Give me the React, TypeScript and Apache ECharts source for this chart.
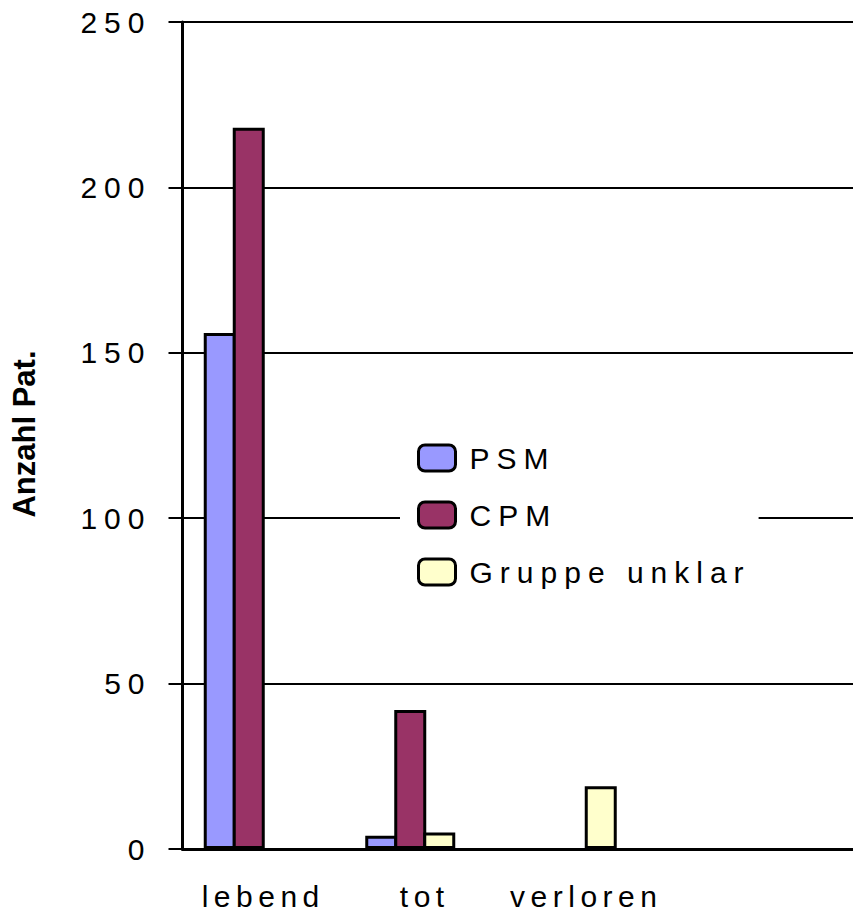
import React, { useEffect, useRef } from "react";
import * as echarts from "echarts";

const categories = ["lebend", "tot", "verloren", "", ""];
const seriesNames = ["PSM", "CPM", "Gruppe unklar"];
const psmValues = [156, 4, null, null, null];
const cpmValues = [218, 42, null, null, null];
const unklarValues = [null, 5, 19, null, null];
const emptyValues = [null, null, null, null, null];
const yMin = 0;
const yMax = 250;
const yInterval = 50;
const yAxisTitle = "Anzahl Pat.";
const colors = ["#9999FF", "#993366", "#FFFFCC"];

export default function App() {
  const ref = useRef<HTMLDivElement>(null);
  useEffect(() => {
    if (!ref.current) return;
    const chart = echarts.init(ref.current, null, { renderer: "svg" });
    const barStyle = (c: string) => ({ color: c, borderColor: "#000", borderWidth: 3, borderJoin: "miter" });
    const mk = (name: string, data: any[], color: string) => ({
      name,
      type: "bar",
      data,
      barWidth: 32,
      barGap: "-9.375%",
      itemStyle: barStyle(color),
    });
    chart.setOption({
      animation: false,
      backgroundColor: "#fff",
      grid: { left: 182.5, top: 22, width: 807.5, height: 827, containLabel: false },
      legend: {
        data: seriesNames,
        orient: "vertical",
        left: 400,
        top: 431,
        padding: [12, 99, 12, 17],
        backgroundColor: "#fff",
        itemWidth: 37,
        itemHeight: 26,
        itemGap: 27,
        itemStyle: { borderColor: "#000", borderWidth: 3, borderJoin: "miter" },
        textStyle: { fontSize: 30, color: "#000", fontFamily: "Arial", padding: [0, 0, 0, 9] },
      },
      xAxis: {
        type: "category",
        data: categories,
        axisLine: { lineStyle: { color: "#000", width: 3 } },
        axisTick: { show: false },
        axisLabel: { fontSize: 30, color: "#000", fontFamily: "Arial", margin: 32, interval: 0 },
      },
      yAxis: {
        type: "value",
        min: yMin,
        max: yMax,
        interval: yInterval,
        axisLine: { show: true, lineStyle: { color: "#000", width: 3 } },
        axisTick: { show: true, length: 14, lineStyle: { color: "#000", width: 2 } },
        splitLine: { lineStyle: { color: "#000", width: 2 } },
        axisLabel: { fontSize: 30, color: "#000", fontFamily: "Arial", margin: 31 },
      },
      graphic: [
        {
          type: "text",
          x: 24,
          y: 434,
          rotation: Math.PI / 2,
          style: {
            text: yAxisTitle,
            font: "bold 31px Arial",
            fill: "#000",
            align: "center",
            verticalAlign: "middle",
          },
        },
      ],
      series: [
        mk(seriesNames[0], psmValues, colors[0]),
        mk(seriesNames[1], cpmValues, colors[1]),
        mk(seriesNames[2], unklarValues, colors[2]),
        mk("_empty", emptyValues, "#fff"),
      ],
    });
    return () => chart.dispose();
  }, []);
  return (
    <div
      className="chartbox"
      style={{ position: "fixed", left: 0, top: 0, width: 853, height: 911, overflow: "hidden", background: "#fff" }}
    >
      <style>{`.chartbox text{letter-spacing:7px}.chartbox text[text-anchor="middle"]{letter-spacing:5.5px}.chartbox text[style*="bold"]{letter-spacing:0}`}</style>
      <div ref={ref} style={{ width: 1000, height: 911 }} />
    </div>
  );
}
